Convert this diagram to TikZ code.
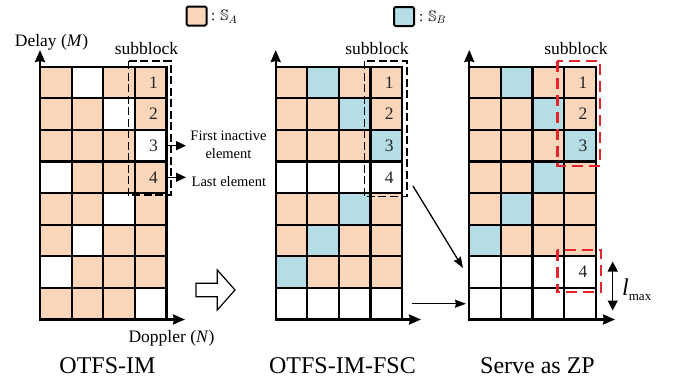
\documentclass[tikz,border=0pt]{standalone}
\usepackage{fontspec}
\usepackage{amssymb}
\setmainfont{Liberation Serif}
\usetikzlibrary{arrows.meta}

\definecolor{cellA}{HTML}{F9D5B9}
\definecolor{cellB}{HTML}{B4DDE6}
\definecolor{cellW}{HTML}{FFFFFF}
\definecolor{zpred}{HTML}{E5242B}

% cell size and top edge of the delay-Doppler grids
\def\cs{31.6}
\def\gy{66.7}

% fill the 8x4 grid: #1 = left edge, #2 = rows of cell types (A, B or W)
\newcommand\ddfill[2]{%
  \foreach \row [count=\r] in {#2}{%
    \foreach \c [count=\k] in \row{%
      \fill[cell\c] ({#1+(\k-1)*\cs},{\gy+(\r-1)*\cs}) rectangle ++(\cs,\cs);
    }%
  }%
}
% grid lines of the 8x4 grid with left edge #1
\newcommand\ddlines[1]{%
  \foreach \i in {0,...,4}{\draw[gridline] ({#1+\i*\cs},\gy) -- ({#1+\i*\cs},{\gy+8*\cs});}%
  \foreach \j in {0,...,8}{\draw[gridline] (#1,{\gy+\j*\cs}) -- ({#1+4*\cs},{\gy+\j*\cs});}%
}

\tikzset{
  gridline/.style={line width=2.2pt, line cap=rect},
  axisline/.style={line width=2.2pt, -{Stealth[length=12pt,width=10pt,inset=1pt]}},
  thinarrow/.style={line width=1.3pt, -{Stealth[length=11pt,width=8pt,inset=1pt]}},
  labelarrow/.style={line width=1.5pt, -{Triangle[length=10pt,width=9pt]}},
  subbox/.style={line width=1.6pt, dash pattern=on 8pt off 3.5pt},
  zpbox/.style={draw=zpred, line width=2.4pt, dash pattern=on 11pt off 6pt},
  num/.style={text=black!85, font=\fontsize{17.5}{20}\selectfont, inner sep=0pt},
  lbl/.style={font=\fontsize{17.5}{20}\selectfont, inner sep=0pt},
  small/.style={font=\fontsize{14.5}{18}\selectfont, inner sep=0pt, align=center},
  caption/.style={font=\fontsize{24}{28}\selectfont, inner sep=0pt},
  legbox/.style={draw=black, line width=2pt, rounded corners=1.5pt, minimum width=20pt, minimum height=19pt, inner sep=0pt},
  legtext/.style={anchor=west, inner sep=0pt, font=\fontsize{15}{18}\selectfont},
}

\begin{document}
\begin{tikzpicture}[x=1pt,y=-1pt]
\useasboundingbox (0,0) rectangle (675,381);

% ---------- legend ----------
\node[legbox, fill=cellA] (legA) at (196.5,16) {};
\node[legtext] (legAt) at (211,17) {:\hspace{5pt}$\mathbb{S}_{A}$};
\node[legbox, fill=cellB] (legB) at (404,16.5) {};
\node[legtext] (legBt) at (419,17.5) {:\hspace{5pt}$\mathbb{S}_{B}$};

% ---------- OTFS-IM ----------
\def\xa{40}
\ddfill{\xa}{{A,W,A,A},{A,A,W,A},{A,A,A,W},{W,A,A,A},{A,A,W,A},{A,W,A,A},{W,A,A,A},{A,A,A,W}}
\ddlines{\xa}
\coordinate (Lo) at (\xa,{\gy+8*\cs});
\coordinate (Ly) at (\xa,50);
\coordinate (Lx) at (185,{\gy+8*\cs});
\draw[axisline] (Lo) -- (Ly);
\draw[axisline] (Lo) -- (Lx);
\foreach \n in {1,...,4}{\node[num] (L\n) at ({\xa+3.5*\cs+3},{\gy+(\n-0.5)*\cs}) {\n};}
\draw[subbox] (128.3,61) rectangle (171,195);
\coordinate (L3e) at ({\xa+4*\cs},{\gy+2.5*\cs});
\coordinate (L4e) at ({\xa+4*\cs},{\gy+3.5*\cs});
\coordinate (L3t) at (186,{\gy+2.5*\cs});
\coordinate (L4t) at (186,{\gy+3.5*\cs});
\draw[labelarrow] (L3e) -- (L3t);
\draw[labelarrow] (L4e) -- (L4t);
\node[small] (firstlbl) at (228.5,145) {First inactive\\element};
\node[small, anchor=west] (lastlbl) at (191.5,182) {Last element};
\node[lbl] (delay) at (51.5,42) {Delay (\textit{M})};
\node[lbl] (doppler) at (171.5,338) {Doppler (\textit{N})};
\node[lbl] (subL) at (146.5,49) {subblock};
\node[caption] (capL) at (107.5,366) {OTFS-IM};

% hollow arrow between the first two grids
\draw[line width=1.2pt, fill=white, line join=miter]
  (196,283.3) -- (217.3,283.3) -- (217.3,270) -- (235,290) -- (217.3,310)
  -- (217.3,296.7) -- (196,296.7) -- cycle;

% ---------- OTFS-IM-FSC ----------
\def\xb{275.7}
\ddfill{\xb}{{A,B,A,A},{A,A,B,A},{A,A,A,B},{W,W,W,W},{A,A,B,A},{A,B,A,A},{B,A,A,A},{W,W,W,W}}
\ddlines{\xb}
\coordinate (Mo) at (\xb,{\gy+8*\cs});
\coordinate (My) at (\xb,50);
\coordinate (Mx) at (421,{\gy+8*\cs});
\draw[axisline] (Mo) -- (My);
\draw[axisline] (Mo) -- (Mx);
\foreach \n in {1,...,4}{\node[num] (M\n) at ({\xb+3.5*\cs+3},{\gy+(\n-0.5)*\cs}) {\n};}
\draw[subbox] (364.3,61) rectangle (406.7,196.5);
\node[lbl] (subM) at (377,49) {subblock};
\node[caption] (capM) at (342.5,366) {OTFS-IM-FSC};

% ---------- Serve as ZP ----------
\def\xc{469.3}
\ddfill{\xc}{{A,B,A,A},{A,A,B,A},{A,A,A,B},{A,A,B,A},{A,B,A,A},{B,A,A,A},{W,W,W,W},{W,W,W,W}}
\ddlines{\xc}
\coordinate (Ro) at (\xc,{\gy+8*\cs});
\coordinate (Ry) at (\xc,50);
\coordinate (Rx) at (615,{\gy+8*\cs});
\draw[axisline] (Ro) -- (Ry);
\draw[axisline] (Ro) -- (Rx);
\foreach \n in {1,2,3}{\node[num] (R\n) at ({\xc+3.5*\cs+3},{\gy+(\n-0.5)*\cs}) {\n};}
\node[num] (R4) at ({\xc+3.5*\cs+3},{\gy+6.5*\cs}) {4};
\draw[zpbox] (557.3,61) rectangle (600,165.7);
\draw[zpbox] (557.3,250) rectangle (601,292);
\node[lbl] (subR) at (576,49) {subblock};
\node[caption] (capR) at (537.5,366) {Serve as ZP};

% l_max span
\coordinate (lmT) at (612.7,261.5);
\coordinate (lmB) at (612.7,310.5);
\draw[line width=1.5pt, {Triangle[length=10pt,width=10pt]}-{Triangle[length=10pt,width=10pt]}] (lmT) -- (lmB);
\node[anchor=west, inner sep=0pt] (lmax) at (622,290) {\fontsize{24}{26}\selectfont\textit{l}\raisebox{-5pt}{\fontsize{13}{14}\selectfont max}};

% moves from the FSC grid into the ZP region
\coordinate (fromA) at (413,186);
\coordinate (toA) at (463,268);
\coordinate (fromB) at (411.5,{\gy+7.5*\cs});
\coordinate (toB) at (466,{\gy+7.5*\cs});
\draw[thinarrow] (fromA) -- (toA);
\draw[thinarrow] (fromB) -- (toB);
\end{tikzpicture}
\end{document}
